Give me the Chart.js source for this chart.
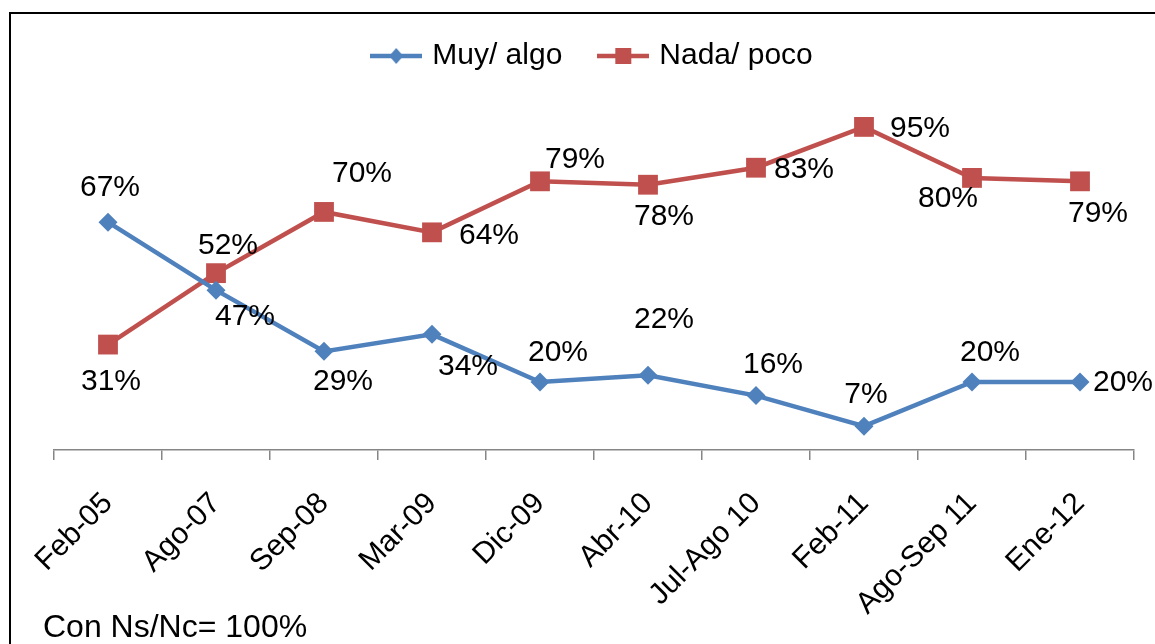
<!DOCTYPE html>
<html>
<head>
<meta charset="utf-8">
<script src="https://cdn.jsdelivr.net/npm/chart.js@4.4.1/dist/chart.umd.min.js"></script>
<style>
  html, body { margin: 0; padding: 0; background: #fff; }
  body { width: 1155px; height: 644px; position: relative; overflow: hidden; }
  #frame { position: absolute; left: 9px; top: 12px; width: 1200px; height: 700px;
           border-top: 2px solid #000; border-left: 2px solid #000; box-sizing: border-box; }
  #wrap { position: absolute; left: 0; top: 0; width: 1155px; height: 644px; }
  #nota { position: absolute; left: 43px; top: 610px; font: 32px 'Liberation Sans', Arial, sans-serif;
          line-height: 32px; color: #000; white-space: nowrap; }
</style>
</head>
<body>
<div id="frame"></div>
<div id="wrap"><canvas id="grafico"></canvas></div>
<div id="nota">Con Ns/Nc= 100%</div>
<script>
/* Periodos de la encuesta (eje x) */
const periodos = ['Feb-05', 'Ago-07', 'Sep-08', 'Mar-09', 'Dic-09', 'Abr-10', 'Jul-Ago 10', 'Feb-11', 'Ago-Sep 11', 'Ene-12'];
/* Porcentajes por serie */
const muyAlgo = [67, 47, 29, 34, 20, 22, 16, 7, 20, 20];
const nadaPoco = [31, 52, 70, 64, 79, 78, 83, 95, 80, 79];

const azul = '#4F81BD';
const rojo = '#C0504D';
const fuente = "'Liberation Sans', Arial, sans-serif";

/* Desplazamiento de cada etiqueta respecto a su punto (dx, dy) */
const posAzul = [[2, -34], [29, 27], [19, 30], [36, 32], [18, -29], [16, -55], [17, -31], [2, -31], [18, -29], [43, 1]];
const posRojo = [[3, 37], [12, -27], [38, -38], [57, 3], [35, -22], [16, 32], [48, 2], [56, 2], [-24, 21], [18, 32]];

/* Símbolo de leyenda: línea con marcador en el medio */
function simbolo(color, forma) {
  const c = document.createElement('canvas');
  c.width = 52; c.height = 22;
  const ctx = c.getContext('2d');
  ctx.strokeStyle = color; ctx.fillStyle = color; ctx.lineWidth = 4.5;
  ctx.beginPath(); ctx.moveTo(0, 11); ctx.lineTo(52, 11); ctx.stroke();
  ctx.beginPath();
  if (forma === 'diamante') {
    ctx.moveTo(26, 3); ctx.lineTo(33, 11); ctx.lineTo(26, 19); ctx.lineTo(19, 11);
  } else {
    ctx.rect(18, 3, 16, 16);
  }
  ctx.closePath(); ctx.fill();
  return c;
}
const simbolos = [simbolo(azul, 'diamante'), simbolo(rojo, 'cuadro')];

/* Plugin sencillo para escribir los porcentajes junto a cada punto */
const etiquetas = {
  id: 'etiquetas',
  afterDatasetsDraw(chart, args, opts) {
    const ctx = chart.ctx;
    ctx.save();
    ctx.font = '30px ' + fuente;
    ctx.fillStyle = '#000';
    ctx.textAlign = 'center';
    ctx.textBaseline = 'middle';
    chart.data.datasets.forEach((ds, i) => {
      const pos = opts.pos[i];
      chart.getDatasetMeta(i).data.forEach((pt, j) => {
        ctx.fillText(ds.data[j] + '%', pt.x + pos[j][0], pt.y + pos[j][1]);
      });
    });
    ctx.restore();
  }
};

new Chart(document.getElementById('grafico'), {
  type: 'line',
  data: {
    labels: periodos,
    datasets: [
      {
        label: 'Muy/ algo',
        data: muyAlgo,
        borderColor: azul,
        backgroundColor: azul,
        borderWidth: 4.5,
        pointStyle: 'rectRot',
        pointRadius: 9.5,
        pointHoverRadius: 9.5,
        pointBorderWidth: 0,
        tension: 0
      },
      {
        label: 'Nada/ poco',
        data: nadaPoco,
        borderColor: rojo,
        backgroundColor: rojo,
        borderWidth: 4.5,
        pointStyle: 'rect',
        pointRadius: 14,
        pointHoverRadius: 14,
        pointBorderWidth: 0,
        tension: 0
      }
    ]
  },
  options: {
    responsive: true,
    maintainAspectRatio: false,
    animation: false,
    layout: { padding: { left: 54, right: 21, top: 1, bottom: 0 } },
    scales: {
      x: {
        offset: true,
        border: { display: true, color: '#868686', width: 1.5 },
        grid: { display: true, drawOnChartArea: false, drawTicks: true, tickLength: 10, color: '#868686', lineWidth: 1.5, offset: true },
        ticks: {
          color: '#000',
          font: { size: 30, family: fuente },
          minRotation: 45,
          maxRotation: 45,
          autoSkip: false,
          padding: 26
        },
        afterFit(scale) { scale.height = 194; }
      },
      y: {
        display: false,
        min: 0,
        max: 108.5
      }
    },
    plugins: {
      legend: {
        position: 'top',
        labels: {
          color: '#000',
          font: { size: 30, family: fuente },
          usePointStyle: true,
          pointStyleWidth: 42,
          padding: 40,
          generateLabels(chart) {
            const base = Chart.defaults.plugins.legend.labels.generateLabels(chart);
            base.forEach((l, i) => { l.pointStyle = simbolos[i]; });
            return base;
          }
        }
      },
      tooltip: { enabled: false },
      etiquetas: { pos: [posAzul, posRojo] }
    }
  },
  plugins: [etiquetas]
});
</script>
</body>
</html>
